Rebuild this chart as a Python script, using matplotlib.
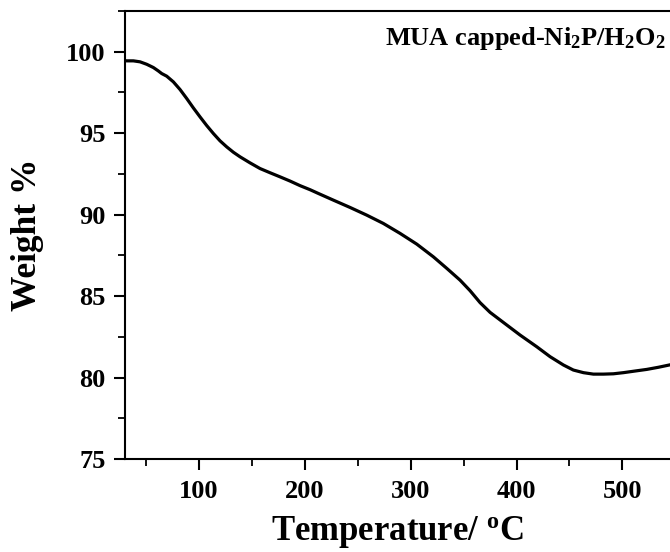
import matplotlib
matplotlib.use("Agg")
import matplotlib.pyplot as plt
from matplotlib.ticker import MultipleLocator

temperature = [30, 31.6, 37.9, 44.2, 50.5, 56.8, 61.5, 64.7, 69.4, 75.7, 82,
               88.3, 94.6, 100.9, 107.2, 113.5, 119.8, 126.1, 132.4, 138.7,
               148.1, 157.6, 167.1, 176.5, 186, 195.4, 204.9, 212.7, 226.9,
               242.7, 258.4, 274.1, 289.9, 305.7, 321.4, 334.1, 346.6, 356.1,
               365.5, 375, 387.6, 403.3, 419.1, 431.7, 444.3, 453.7, 463.2,
               472.6, 482.1, 491.5, 501, 512, 523.1, 534, 545]
weight = [99.45, 99.44, 99.44, 99.38, 99.23, 99.03, 98.82, 98.66, 98.50,
          98.15, 97.68, 97.13, 96.55, 96.0, 95.47, 94.98, 94.53, 94.16,
          93.83, 93.55, 93.18, 92.83, 92.57, 92.32, 92.06, 91.78, 91.53,
          91.3, 90.89, 90.44, 89.97, 89.46, 88.85, 88.19, 87.41, 86.70,
          85.98, 85.33, 84.6, 84.0, 83.38, 82.61, 81.89, 81.28, 80.77,
          80.46, 80.30, 80.21, 80.21, 80.23, 80.30, 80.40, 80.50, 80.63,
          80.78]

x_ticks = [100, 200, 300, 400, 500]
y_ticks = [75, 80, 85, 90, 95, 100]

plt.rcParams['font.family'] = ['Liberation Serif', 'DejaVu Serif']
plt.rcParams['font.weight'] = 'bold'
plt.rcParams['mathtext.fontset'] = 'custom'
plt.rcParams['mathtext.rm'] = 'Liberation Serif:bold'
plt.rcParams['mathtext.bf'] = 'Liberation Serif:bold'
plt.rcParams['mathtext.it'] = 'Liberation Serif:bold'

fig = plt.figure(figsize=(6.7, 5.52), dpi=100)
ax = fig.add_axes([125/670, 93/552, 545/670, 448/552])
ax.plot(temperature, weight, color='black', lw=2.3, solid_joinstyle='round')

ax.set_xlim(30, 545)
ax.set_ylim(75, 102.5)
ax.set_xticks(x_ticks)
ax.set_yticks(y_ticks)
ax.xaxis.set_minor_locator(MultipleLocator(50))
ax.yaxis.set_minor_locator(MultipleLocator(2.5))
ax.tick_params(which='major', direction='out', length=8, width=1.5, labelsize=19)
ax.tick_params(axis='x', which='major', pad=7)
ax.tick_params(axis='y', which='major', pad=6)
ax.tick_params(which='minor', direction='out', length=5, width=1.3)
ax.spines['right'].set_visible(False)
for s in ['left', 'top', 'bottom']:
    ax.spines[s].set_linewidth(1.5)
for lab in ax.get_xticklabels() + ax.get_yticklabels():
    lab.set_fontweight('bold')

ax.set_xlabel(r'Temperature/ $^{\mathbf{o}}$C', fontsize=25, fontweight='bold', labelpad=8)
ax.set_ylabel('Weight %', fontsize=25.5, fontweight='bold', labelpad=16)

ax.text(0.992, 0.968, r'MUA capped-Ni$_{\mathbf{2}}$P/H$_{\mathbf{2}}$O$_{\mathbf{2}}$',
        transform=ax.transAxes, ha='right', va='top', fontsize=19, fontweight='bold')

fig.savefig('out.png', dpi=100)
